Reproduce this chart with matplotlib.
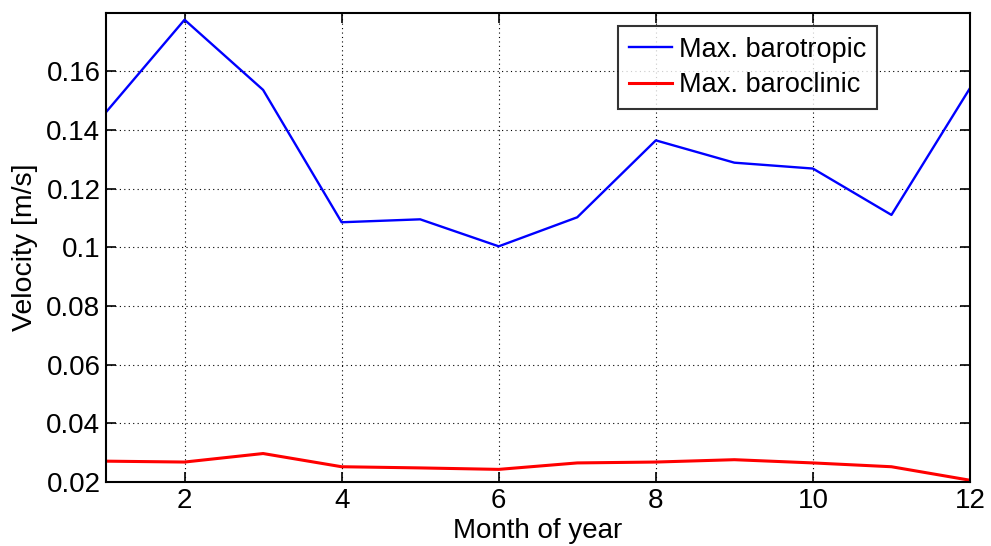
import matplotlib
matplotlib.use('Agg')
import matplotlib.pyplot as plt

plt.rcParams['font.family'] = ['Liberation Sans', 'DejaVu Sans']

months = [1, 2, 3, 4, 5, 6, 7, 8, 9, 10, 11, 12]
barotropic = [0.1460, 0.1775, 0.1536, 0.1085, 0.1095, 0.1003, 0.1102,
              0.1364, 0.1288, 0.1268, 0.1110, 0.1542]
baroclinic = [0.0271, 0.0268, 0.0297, 0.0252, 0.0248, 0.0243, 0.0265,
              0.0268, 0.0276, 0.0265, 0.0252, 0.0206]
xticks = [2, 4, 6, 8, 10, 12]
yticks = [0.02, 0.04, 0.06, 0.08, 0.1, 0.12, 0.14, 0.16]
yticklabels = ['0.02', '0.04', '0.06', '0.08', '0.1', '0.12', '0.14', '0.16']

fig = plt.figure(figsize=(9.91, 5.46), dpi=100)
ax = fig.add_axes([106 / 991, 1 - 482 / 546, (970 - 106) / 991, (482 - 13) / 546])

ax.plot(months, barotropic, color='#0000ff', lw=1.7, label='Max. barotropic')
ax.plot(months, baroclinic, color='#ff0000', lw=2.2, label='Max. baroclinic')

ax.set_xlim(1, 12)
ax.set_ylim(0.02, 0.1798)
ax.set_xticks(xticks)
ax.set_yticks(yticks)
ax.set_yticklabels(yticklabels)
ax.grid(True, color='black', linestyle=(0, (1, 3)), linewidth=0.8)
ax.tick_params(direction='in', length=7, width=1.2, labelsize=20,
               top=True, right=True, pad=4)
for s in ax.spines.values():
    s.set_linewidth(1.5)

ax.set_xlabel('Month of year', fontsize=20, labelpad=3)
ax.set_ylabel('Velocity [m/s]', fontsize=20.5, labelpad=6)

leg = ax.legend(loc='upper right', bbox_to_anchor=(877 / 991, 1 - 26 / 546),
                bbox_transform=fig.transFigure, fontsize=19.5, frameon=True,
                fancybox=False, edgecolor='black', handlelength=1.6,
                borderpad=0.4, labelspacing=0.35, handletextpad=0.25,
                borderaxespad=0)
leg.get_frame().set_linewidth(1.5)

fig.savefig('out.png', dpi=100)
